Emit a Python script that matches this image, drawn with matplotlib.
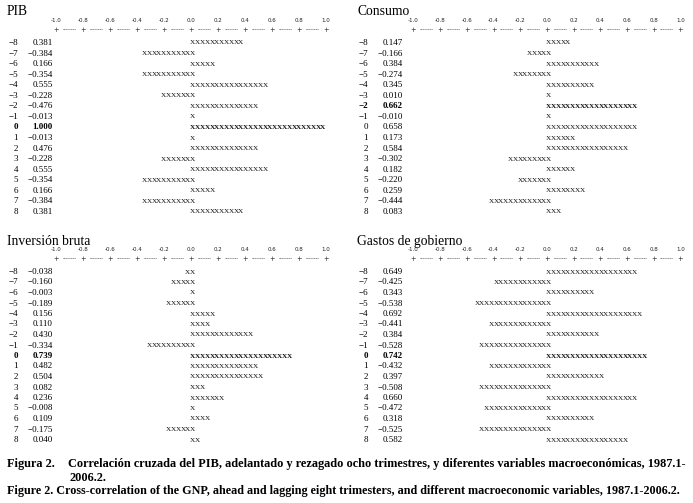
import matplotlib
matplotlib.use('Agg')
import matplotlib.pyplot as plt

# ==============================================================
# DATOS
# ==============================================================

rezagos = list(range(-8, 9))

pib = [0.381, -0.384, 0.166, -0.354, 0.555, -0.228, -0.476, -0.013, 1.000,
       -0.013, 0.476, -0.228, 0.555, -0.354, 0.166, -0.384, 0.381]
# en la figura original la barra del rezago -2 sale hacia la derecha
pib_barras = [0.381, -0.384, 0.166, -0.354, 0.555, -0.228, 0.476, -0.013, 1.000,
              -0.013, 0.476, -0.228, 0.555, -0.354, 0.166, -0.384, 0.381]

consumo = [0.147, -0.166, 0.384, -0.274, 0.345, 0.010, 0.662, -0.010, 0.658,
           0.173, 0.584, -0.302, 0.182, -0.220, 0.259, -0.444, 0.083]

inversion = [-0.038, -0.160, -0.003, -0.189, 0.156, 0.110, 0.430, -0.334, 0.739,
             0.482, 0.504, 0.082, 0.236, -0.008, 0.109, -0.175, 0.040]

gastos = [0.649, -0.425, 0.343, -0.538, 0.692, -0.441, 0.384, -0.528, 0.742,
          -0.432, 0.397, -0.508, 0.660, -0.472, 0.318, -0.525, 0.582]

escala = [-1.0, -0.8, -0.6, -0.4, -0.2, 0.0, 0.2, 0.4, 0.6, 0.8, 1.0]

W, H = 693, 503
SERIF = 'Liberation Serif'

fig = plt.figure(figsize=(W / 100, H / 100), dpi=100)
fig.patch.set_facecolor('white')


def fmt(v):
    s = '%.3f' % abs(v)
    return ('\u2212' + s) if v < 0 else s


def lag_txt(k):
    return ('\u2212%d' % -k) if k < 0 else '%d' % k


# ==============================================================
# PANEL
# ==============================================================

def panel(titulo, valores, barras, negrita, left, top, w, h, cero, esc, fila0, dy):
    ax = fig.add_axes([left / W, 1 - (top + h) / H, w / W, h / H])
    ax.set_xlim((left - cero) / esc, (left + w - cero) / esc)
    ax.set_ylim(-8 + (top + h - fila0) / dy, -8 - (fila0 - top) / dy)
    ax.axis('off')

    px = lambda p: (p - cero) / esc  # pixel -> unidades de correlación

    ax.text(px(left + 7), -8 - 2.95, titulo, fontsize=9.8, family=SERIF,
            ha='left', va='center')

    # escala superior
    for t in escala:
        ax.text(t, -8 - 2.1, '%.1f' % t, fontsize=4, ha='center', va='center',
                color='#222222')
        ax.text(t, -8 - 1.25, '+', fontsize=4.8, ha='center', va='center',
                color='#222222')
    for a, b in zip(escala[:-1], escala[1:]):
        ax.text((a + b) / 2, -8 - 1.25, '--------', fontsize=3.6, ha='center',
                va='center', color='#222222')

    w_x = 1 / 28
    for k, v, b in zip(rezagos, valores, barras):
        peso = 'bold' if k == negrita else 'normal'
        ax.text(px(left + 18), k, lag_txt(k), fontsize=6.5, family=SERIF,
                ha='right', va='center', weight=peso)
        ax.text(px(left + 53), k, fmt(v), fontsize=6.5, family=SERIF,
                ha='right', va='center', weight=peso)
        n = int(round(abs(b) * 27)) + 1
        for i in range(n):
            if b >= 0:
                xc = (i + 0.5) * w_x - 0.005
            else:
                xc = 0.03 - (i + 0.5) * w_x
            ax.text(xc, k, 'X', fontsize=5.2, family=SERIF, ha='center',
                    va='center', color='#111111', weight=peso)
    return ax


panel('PIB', pib, pib_barras, 0, 0, 0, 346, 226, 191, 135, 43, 10.56)
panel('Consumo', consumo, consumo, -2, 350, 0, 343, 226, 547, 133.5, 43, 10.56)
panel('Inversión bruta', inversion, inversion, 0, 0, 228, 346, 222, 191, 135, 272, 10.5)
panel('Gastos de gobierno', gastos, gastos, 0, 350, 228, 343, 222, 547, 133.5, 272, 10.5)

# ==============================================================
# PIE DE FIGURA
# ==============================================================

fig.text(7 / W, 1 - 464 / H, 'Figura 2.', fontsize=8.8, family=SERIF,
         weight='bold', ha='left', va='center')
fig.text(686 / W, 1 - 464 / H,
         'Correlación cruzada del PIB, adelantado y rezagado ocho trimestres, '
         'y diferentes variables macroeconómicas, 1987.1-',
         fontsize=8.8, family=SERIF, weight='bold', ha='right', va='center')
fig.text(70 / W, 1 - 478 / H, '2006.2.', fontsize=8.8, family=SERIF,
         weight='bold', ha='left', va='center')
fig.text(7 / W, 1 - 491 / H,
         'Figure 2. Cross-correlation of the GNP, ahead and lagging eight '
         'trimesters, and different macroeconomic variables, 1987.1-2006.2.',
         fontsize=8.7, family=SERIF, weight='bold', ha='left', va='center')

fig.savefig('out.png', dpi=100, facecolor='white')
